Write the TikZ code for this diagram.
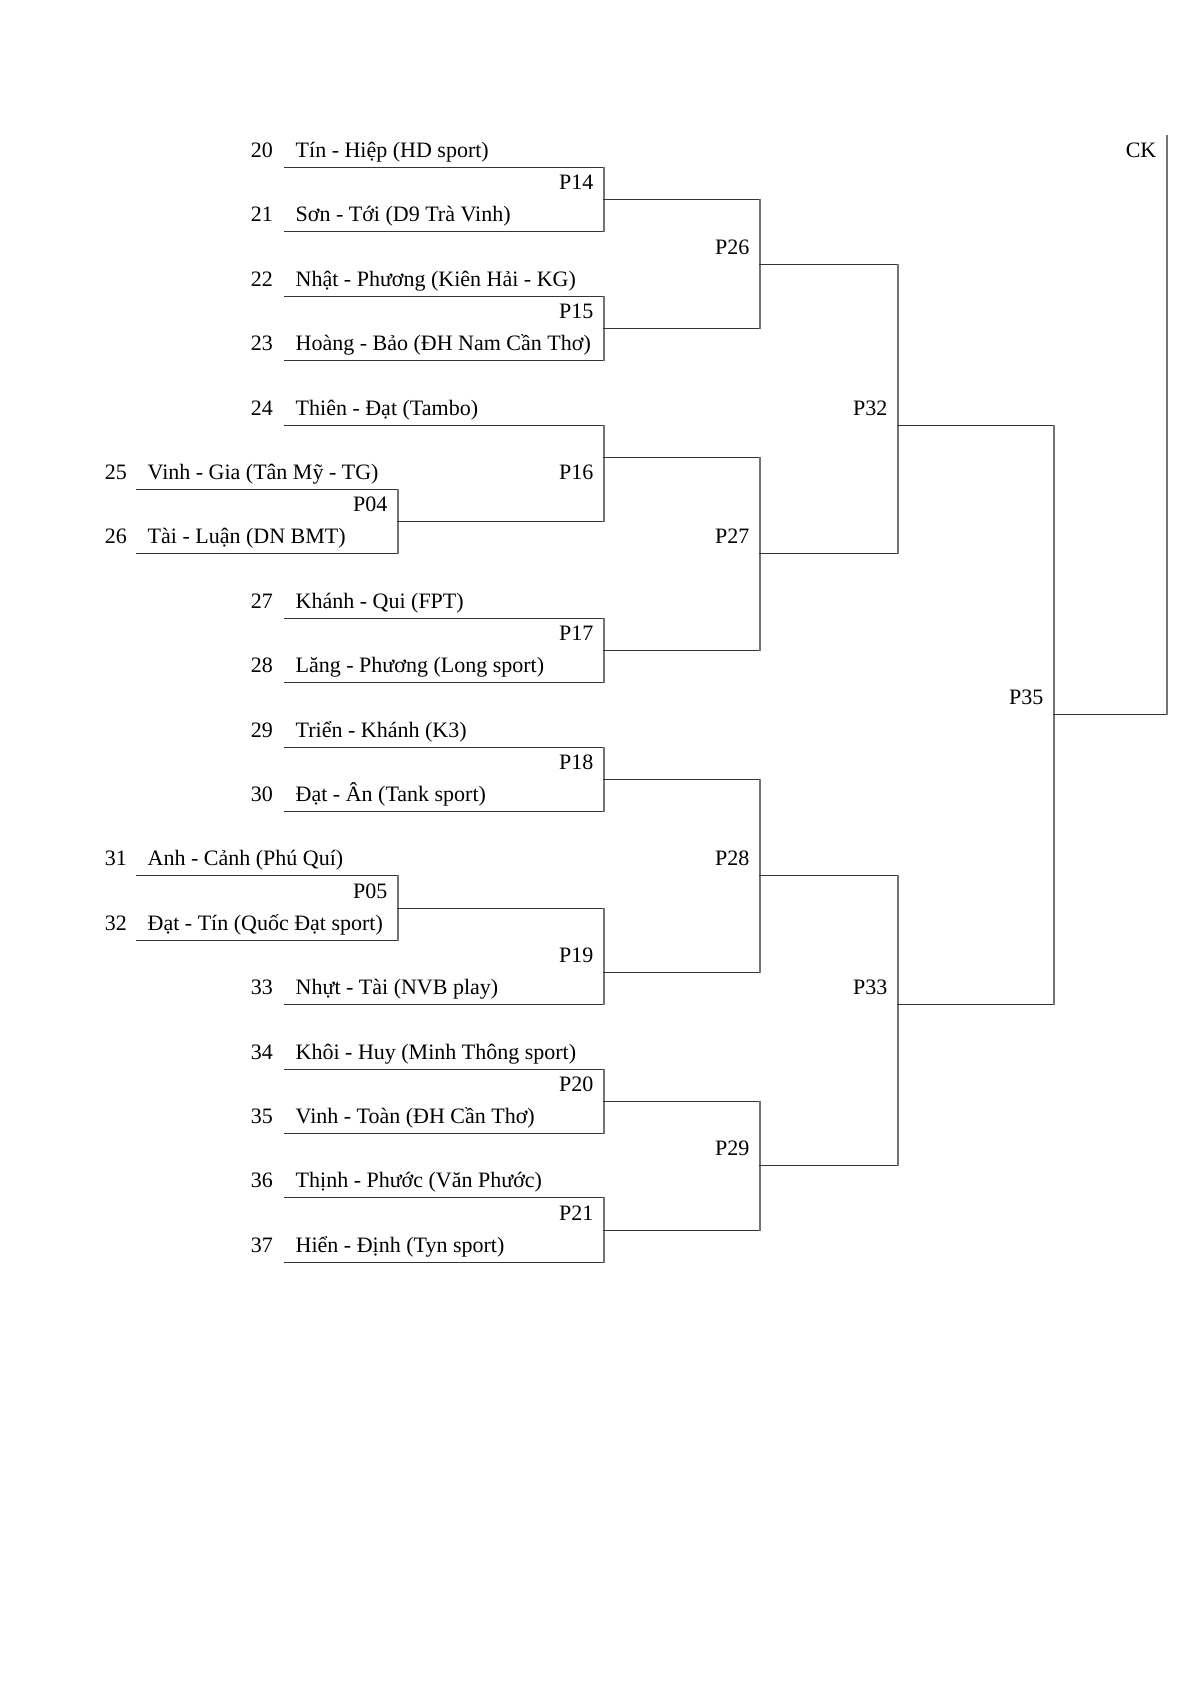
\documentclass[tikz,border=0pt]{standalone}
\usepackage{fontspec}
\setmainfont{Liberation Serif}
\newcommand\Bd[1]{(167.5+32.2*(#1))}
\begin{document}
\begin{tikzpicture}[x=1pt,y=-1pt,
  lbl/.style={font=\fontsize{22}{26}\selectfont, inner sep=0pt, text=black},
  hl/.style={draw=black!80, line width=1.1pt, line cap=rect},
  vl/.style={draw=black!55, line width=1.1pt, line cap=rect}]
\useasboundingbox[fill=white] (0,0) rectangle (1190,1683);
% teams: number / cell / number right x / line start x / line end x / text
\foreach \n/\c/\xn/\xa/\xb/\txt in {
  20/0/273/285/604/{Tín - Hiệp (HD sport)},
  21/2/273/285/604/{Sơn - Tới (D9 Trà Vinh)},
  22/4/273/285/604/{Nhật - Phương (Kiên Hải - KG)},
  23/6/273/285/604/{Hoàng - Bảo (ĐH Nam Cần Thơ)},
  24/8/273/285/604/{Thiên - Đạt (Tambo)},
  25/10/127/137/398/{Vinh - Gia (Tân Mỹ - TG)},
  26/12/127/137/398/{Tài - Luận (DN BMT)},
  27/14/273/285/604/{Khánh - Qui (FPT)},
  28/16/273/285/604/{Lăng - Phương (Long sport)},
  29/18/273/285/604/{Triển - Khánh (K3)},
  30/20/273/285/604/{Đạt - Ân (Tank sport)},
  31/22/127/137/398/{Anh - Cảnh (Phú Quí)},
  32/24/127/137/398/{Đạt - Tín (Quốc Đạt sport)},
  33/26/273/285/604/{Nhựt - Tài (NVB play)},
  34/28/273/285/604/{Khôi - Huy (Minh Thông sport)},
  35/30/273/285/604/{Vinh - Toàn (ĐH Cần Thơ)},
  36/32/273/285/604/{Thịnh - Phước (Văn Phước)},
  37/34/273/285/604/{Hiển - Định (Tyn sport)}}{
  \node[lbl, anchor=base east] (num\n) at (\xn,{\Bd{\c}-10}) {\n};
  \node[lbl, anchor=base west] (team\n) at ({\xa+10.5},{\Bd{\c}-10}) {\txt};
  \coordinate (u\n-a) at (\xa,{\Bd{\c}});
  \coordinate (u\n-b) at (\xb,{\Bd{\c}});
  \draw[hl] (u\n-a) -- (u\n-b);
}
% matches: name / vertical x / top cell / bottom cell / output cell / output end x / label cell
\foreach \name/\xv/\ct/\cb/\co/\xe/\cl in {
  P14/604/0/2/1/760/1,
  P15/604/4/6/5/760/5,
  P04/398/10/12/11/604/11,
  P16/604/8/11/9/760/10,
  P17/604/14/16/15/760/15,
  P18/604/18/20/19/760/19,
  P05/398/22/24/23/604/23,
  P19/604/23/26/25/760/25,
  P20/604/28/30/29/760/29,
  P21/604/32/34/33/760/33,
  P26/760/1/5/3/898/3,
  P27/760/9/15/12/898/12,
  P28/760/19/25/22/898/22,
  P29/760/29/33/31/898/31,
  P32/898/3/12/8/1054/8,
  P33/898/22/31/26/1054/26,
  P35/1054/8/26/17/1167/17}{
  \coordinate (\name-t) at (\xv,{\Bd{\ct}});
  \coordinate (\name-b) at (\xv,{\Bd{\cb}});
  \coordinate (\name-o) at (\xv,{\Bd{\co}});
  \coordinate (\name-e) at (\xe,{\Bd{\co}});
  \draw[vl] (\name-t) -- (\name-b);
  \draw[hl] (\name-o) -- (\name-e);
  \node[lbl, anchor=base east] (\name) at ({\xv-10.5},{\Bd{\cl}-10}) {\name};
}
% final
\coordinate (CK-t) at (1167,136);
\coordinate (CK-b) at (1167,{\Bd{17}});
\draw[vl] (CK-t) -- (CK-b);
\node[lbl, anchor=base east] (CK) at (1156.5,{\Bd{0}-10}) {CK};
\end{tikzpicture}
\end{document}
